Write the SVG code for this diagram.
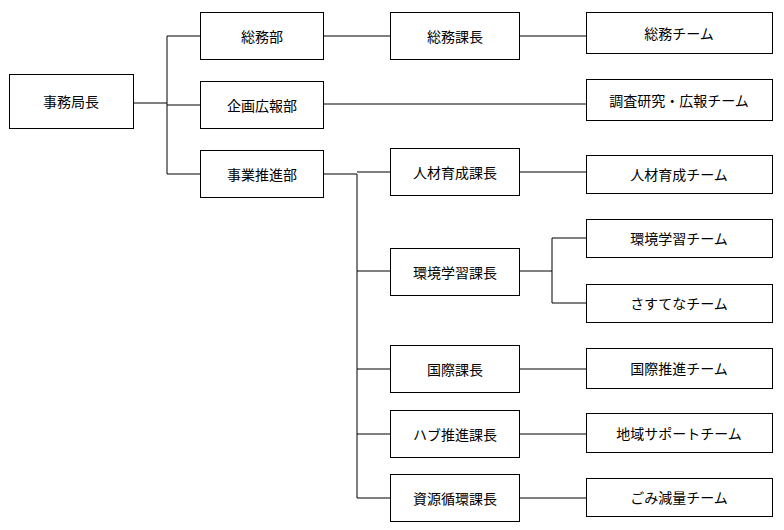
<svg xmlns="http://www.w3.org/2000/svg" width="784" height="530" viewBox="0 0 784 530">
<style>
rect{fill:#fff;stroke:#000;stroke-width:1}
text{font-family:"Noto Sans CJK JP",sans-serif;font-size:14px;text-anchor:middle;dominant-baseline:central;fill:#000}
#connectors path{fill:none;stroke:#000;stroke-width:1}
</style>
<rect x="0" y="0" width="784" height="530" style="stroke:none"/>
<g id="connectors">
<path d="M133 103H167M167 36V174M167 36H200M167 105H200M167 174H200"/>
<path d="M323 36H390M519 36H586M323 104H586"/>
<path d="M323 174H357M357 174V498M357 172H390M357 271H390M357 369H390M357 434H390M357 498H390"/>
<path d="M519 172H586M519 369H586M519 434H586M519 498H586"/>
<path d="M519 271H552M552 238V303M552 238H586M552 303H586"/>
</g>
<g id="n1"><rect x="9.5" y="74.5" width="124" height="54"/><text x="71" y="101">事務局長</text></g>
<g id="n2"><rect x="200.5" y="12.5" width="123" height="47"/><text x="262" y="36">総務部</text></g>
<g id="n3"><rect x="200.5" y="81.5" width="123" height="47"/><text x="262" y="105">企画広報部</text></g>
<g id="n4"><rect x="200.5" y="150.5" width="123" height="47"/><text x="262" y="174">事業推進部</text></g>
<g id="n5"><rect x="390.5" y="12.5" width="129" height="47"/><text x="455" y="36">総務課長</text></g>
<g id="n6"><rect x="390.5" y="148.5" width="129" height="47"/><text x="455" y="172">人材育成課長</text></g>
<g id="n7"><rect x="390.5" y="248.5" width="129" height="47"/><text x="455" y="272">環境学習課長</text></g>
<g id="n8"><rect x="390.5" y="345.5" width="129" height="47"/><text x="455" y="369">国際課長</text></g>
<g id="n9"><rect x="390.5" y="410.5" width="129" height="47"/><text x="455" y="434">ハブ推進課長</text></g>
<g id="n10"><rect x="390.5" y="474.5" width="129" height="47"/><text x="455" y="498">資源循環課長</text></g>
<g id="t1"><rect x="586.5" y="12.5" width="186" height="41"/><text x="679" y="33">総務チーム</text></g>
<g id="t2"><rect x="586.5" y="79.5" width="186" height="41"/><text x="679" y="100">調査研究・広報チーム</text></g>
<g id="t3"><rect x="586.5" y="155.5" width="186" height="38"/><text x="679" y="174">人材育成チーム</text></g>
<g id="t4"><rect x="586.5" y="219.5" width="186" height="38"/><text x="679" y="238">環境学習チーム</text></g>
<g id="t5"><rect x="586.5" y="284.5" width="186" height="38"/><text x="679" y="303">さすてなチーム</text></g>
<g id="t6"><rect x="586.5" y="348.5" width="186" height="40"/><text x="679" y="368">国際推進チーム</text></g>
<g id="t7"><rect x="586.5" y="413.5" width="186" height="39"/><text x="679" y="433">地域サポートチーム</text></g>
<g id="t8"><rect x="586.5" y="478.5" width="186" height="38"/><text x="679" y="497">ごみ減量チーム</text></g>
</svg>
